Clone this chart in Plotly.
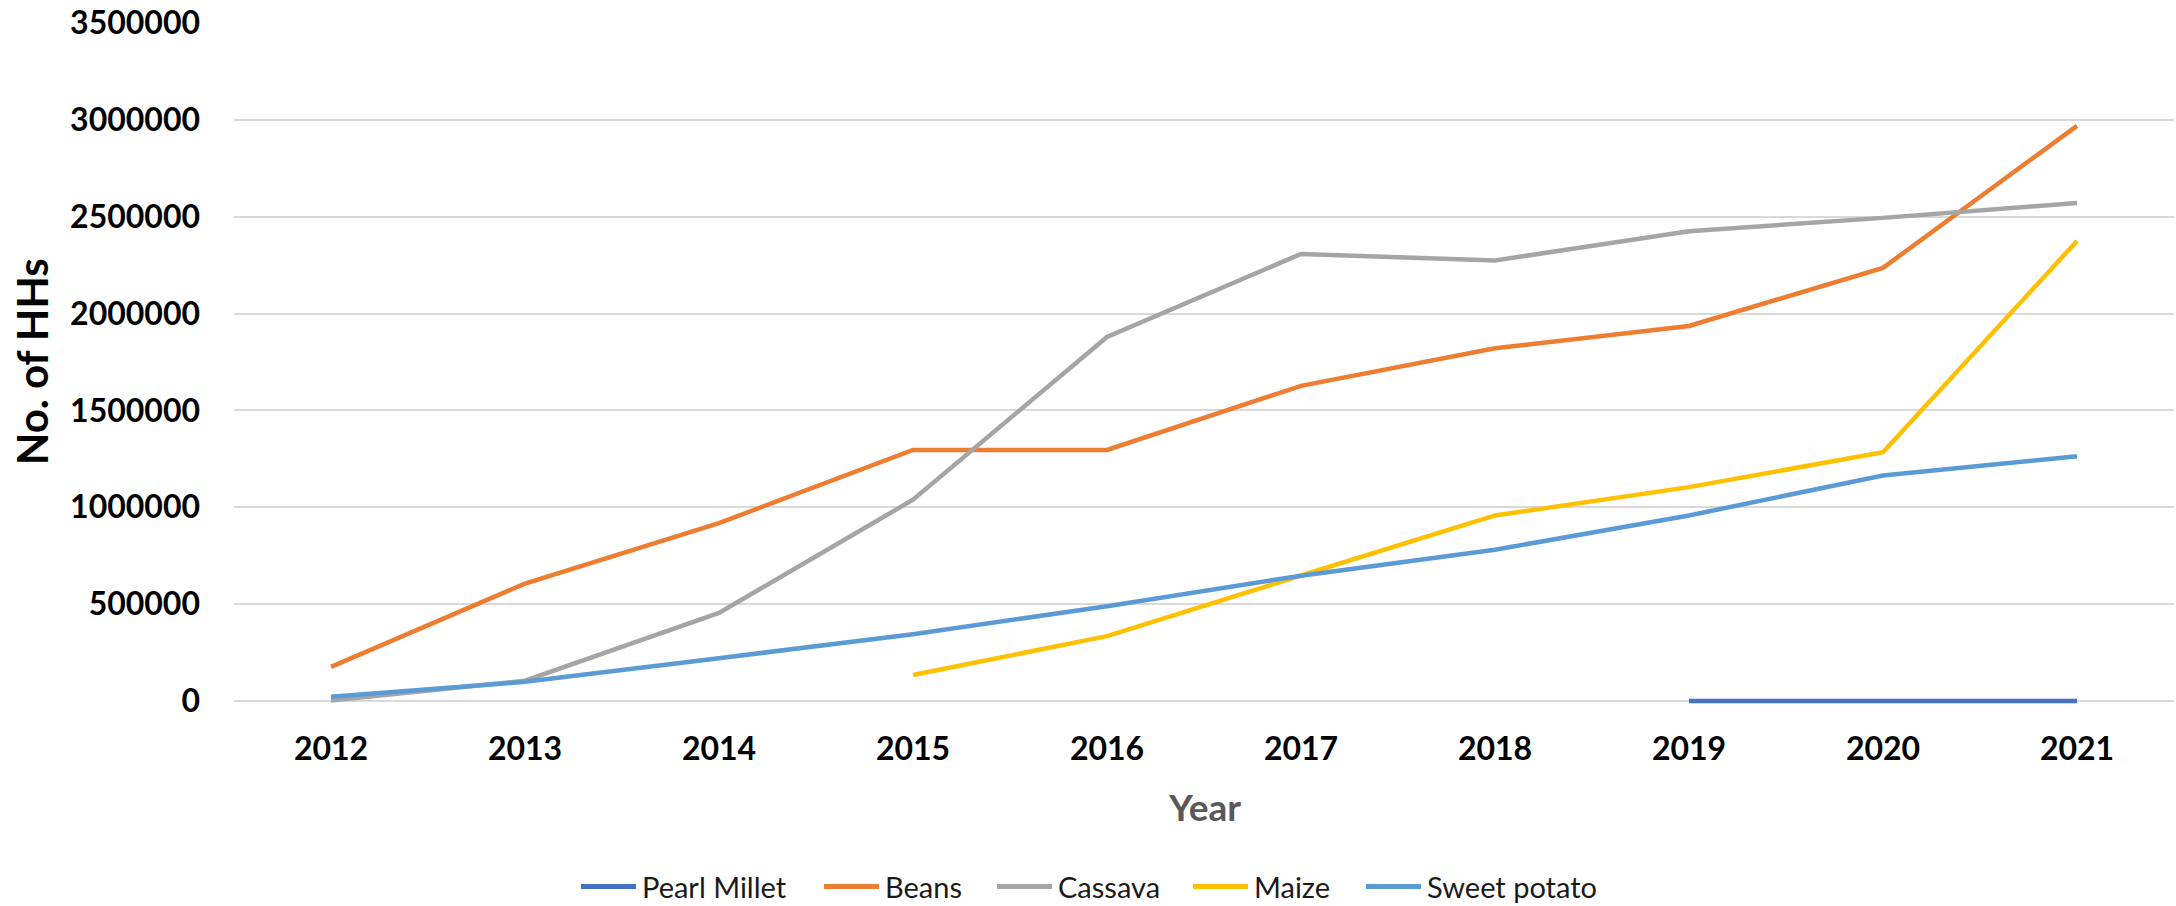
import plotly.graph_objects as go

# Households reached per crop, by year
years = ["2012", "2013", "2014", "2015", "2016", "2017", "2018", "2019", "2020", "2021"]
pearl_millet = [None, None, None, None, None, None, None, 0, 0, 0]
beans = [176000, 606000, 918000, 1296000, 1296000, 1627000, 1821000, 1936000, 2236000, 2969000]
cassava = [3000, 105000, 455000, 1039000, 1879000, 2308000, 2274000, 2425000, 2494000, 2571000]
maize = [None, None, None, 134000, 335000, 648000, 958000, 1104000, 1284000, 2375000]
sweet_potato = [22000, 99000, 221000, 345000, 489000, 647000, 781000, 958000, 1164000, 1263000]

series_names = ["Pearl Millet", "Beans", "Cassava", "Maize", "Sweet potato"]
series_values = [pearl_millet, beans, cassava, maize, sweet_potato]
series_colors = ["#4472C4", "#ED7D31", "#A5A5A5", "#FFC000", "#5B9BD5"]

y_ticks = [0, 500000, 1000000, 1500000, 2000000, 2500000, 3000000, 3500000]
y_top = 3500000

# Canvas and plot-area geometry (pixels); zero sits at y=701, top gridline at y=21.
# The plot area reaches a few pixels below zero so lines on the zero gridline
# are not clipped in half.
W, H = 2176, 906
ZERO_PX, TOP_PX = 701, 21
PAD_BELOW = 3
units_per_px = y_top / (ZERO_PX - TOP_PX)
y_bottom = -PAD_BELOW * units_per_px
ML, MR, MT, MB = 234, 2, TOP_PX, H - ZERO_PX - PAD_BELOW
PW, PH = W - ML - MR, H - MT - MB

# Legend layout: left edge of each entry's line sample (pixels), row centre
legend_left_px = [581, 824, 997, 1193, 1366]
legend_row_px = 887
legend_line_len = 55
legend_text_gap = 4


def px_to_paper_x(px):
    return (px - ML) / PW


def px_to_paper_y(py):
    return (H - MB - py) / PH


FONT = "Lato, 'Open Sans', sans-serif"

fig = go.Figure()
for name, vals, color in zip(series_names, series_values, series_colors):
    fig.add_trace(go.Scatter(
        x=years, y=vals, name=name, mode="lines",
        line=dict(color=color, width=4.5),
        connectgaps=False, showlegend=False, cliponaxis=False,
    ))

shapes = []
annotations = []

# Custom legend row
for left, name, color in zip(legend_left_px, series_names, series_colors):
    yp = px_to_paper_y(legend_row_px)
    shapes.append(dict(
        type="line", xref="paper", yref="paper",
        x0=px_to_paper_x(left), x1=px_to_paper_x(left + legend_line_len),
        y0=yp, y1=yp, line=dict(color=color, width=5),
    ))
    annotations.append(dict(
        xref="paper", yref="paper",
        x=px_to_paper_x(left + legend_line_len + legend_text_gap), y=yp,
        xanchor="left", yanchor="middle", showarrow=False,
        text=name, font=dict(family=FONT, size=29, color="#1a1a1a"),
    ))

# Axis titles
annotations.append(dict(
    xref="paper", yref="paper", x=0.5, y=px_to_paper_y(807),
    xanchor="center", yanchor="middle", showarrow=False,
    text="<b>Year</b>", font=dict(family=FONT, size=37, color="#595959"),
))
annotations.append(dict(
    xref="paper", yref="paper", x=px_to_paper_x(32), y=px_to_paper_y(361),
    xanchor="center", yanchor="middle", showarrow=False, textangle=-90,
    text="<b>No. of HHs</b>", font=dict(family=FONT, size=42, color="#000000"),
))

fig.update_layout(
    width=W, height=H,
    margin=dict(l=ML, r=MR, t=MT, b=MB, pad=0),
    paper_bgcolor="white", plot_bgcolor="white",
    font=dict(family=FONT, color="#000000"),
    showlegend=False,
    shapes=shapes, annotations=annotations,
    xaxis=dict(
        type="category", range=[-0.5, 9.5],
        showgrid=False, showline=False, zeroline=False, ticks="",
        tickfont=dict(family=FONT, size=32, color="#000000", weight="bold"),
        ticklabelstandoff=26 - PAD_BELOW,
    ),
    yaxis=dict(
        range=[y_bottom, y_top], tickvals=y_ticks,
        ticktext=[str(v) for v in y_ticks],
        showgrid=True, gridcolor="#D9D9D9", gridwidth=2,
        zeroline=False, showline=False, ticks="",
        tickfont=dict(family=FONT, size=32, color="#000000", weight="bold"),
        ticklabelstandoff=33,
    ),
)

fig.write_html("out.html")
